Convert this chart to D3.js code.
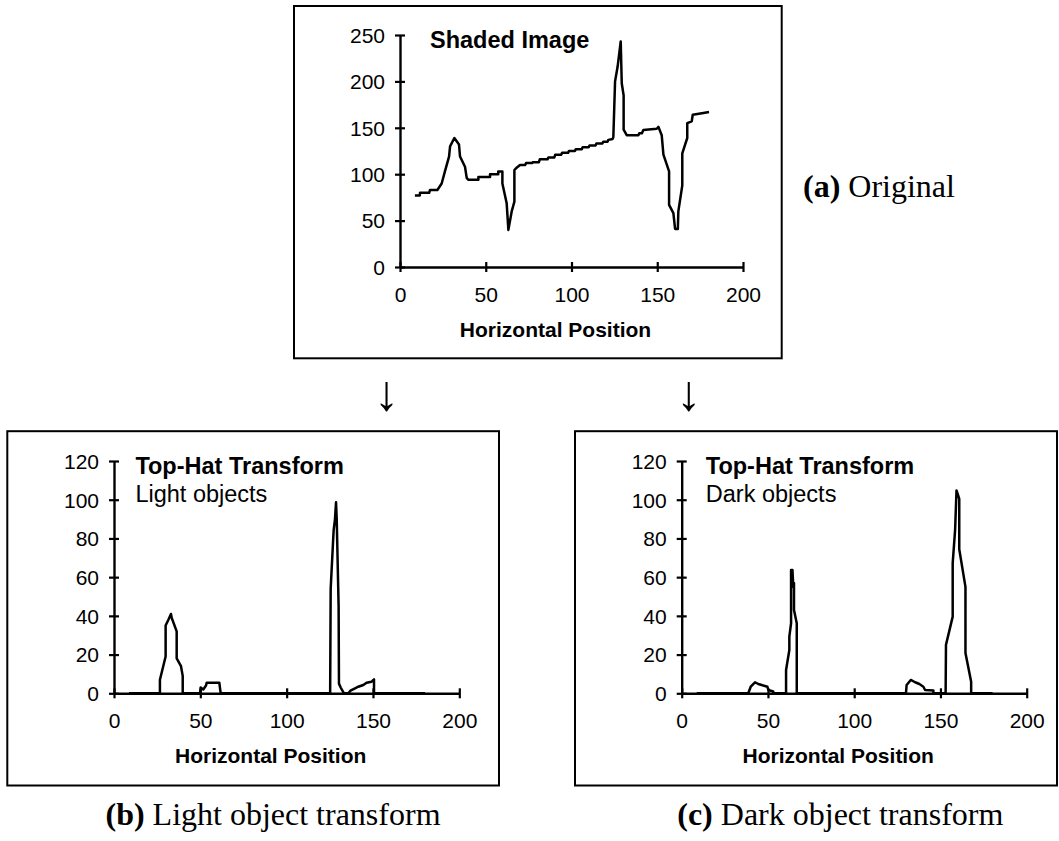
<!DOCTYPE html>
<html><head><meta charset="utf-8">
<script src="https://cdn.jsdelivr.net/npm/d3@7"></script>
<style>body{margin:0;background:#fff} svg{display:block}</style>
</head><body>
<svg id="c" width="1059" height="841"></svg>
<script>
// ---------- data ----------
const xTicks = [0, 50, 100, 150, 200];
const yTicksOriginal = [0, 50, 100, 150, 200, 250];
const yTicksTopHat = [0, 20, 40, 60, 80, 100, 120];

const originalX = [8.7,11.5,11.7,17,17.5,21.8,24.3,26.2,28.6,29.2,31.7,34.4,35,37.9,38.9,39.8,45.7,45.7,52.5,52.5,57.3,57.3,59.7,59.7,62.2,63.2,65.1,66.7,66.7,68,70,73,73.5,77,77.5,81,81.5,86,86.5,90,90.5,94,94.5,98,98.5,102,102.5,106,106.5,110,110.5,114,114.5,118,118.5,121,121.5,124,124.4,125.4,126.9,128.7,129.3,130.4,130.4,132.2,139,139.5,141,141.9,149.7,150.7,152.6,153.6,156.9,156.9,159.4,160.4,162,162.3,164.6,164.6,167.5,167.5,170.1,170.7,176.9,180.2];
const originalY = [77,77,80,80,83,83,90,103,119,130,139,132,119,108,96,94,94,97,97,100,100,103,103,90,68.6,40,59.6,70.4,104.5,107,110,110,112,112,113,113,116,116,118,118,121,121,123,123,125,125,127,127,129,129,131,131,133,133,135,135,137,138,140,200,216,243,198,185,148,142,142,144,144,147.6,149,151,142,121,103,67,58,41,41,60,88,122.5,139,155,157,164,166,167];

const lightX = [8.7,26.6,26.6,29.9,29.9,31.5,33,33.4,36.3,36.3,38.8,39.8,39.8,49.8,50.2,51.7,53.3,53.7,61,61.8,125.2,125.5,127.2,128,128.6,129,130.1,130.3,131.3,133.2,135.7,137,139.6,141.5,144.4,146.3,149.2,150.6,150.6,180.2];
const lightY = [0,0,7,19,35,38,41,39,32,18,14,9,0,0,3,2,4,5.5,5.5,0,0,54,84,90,98.7,90,45,5,3,0,0,1.4,2.6,3.4,4.3,5.5,6,7.2,0,0];

const darkX = [8.7,38.6,40,42.5,44.4,47.3,49.7,50.2,53.1,53.1,60.5,60.5,62.4,62.4,63.4,63.4,64.2,64.7,65.1,65.1,66.7,66.7,130,130.4,132.8,135.3,137.8,140.1,141.1,145.9,145.9,153,153.2,157.1,157.1,158.5,159.3,160,160.9,160.9,164.5,164.5,167.8,167.8,180.2];
const darkY = [0,0,3.4,5.7,4.8,4,3.4,1.7,0.9,0,0,12,22.4,29.3,36.2,63.7,63.7,55,57,43,36.2,0,0,4.3,6.9,5.7,4.8,3.4,1.7,1.4,0,0,25,39.6,67.2,84.4,104.8,103,100.4,74.4,55,20.8,6,0,0];

// ---------- layout ----------
const SANS = "'Liberation Sans', Arial, Helvetica, sans-serif";
const SERIF = "'Liberation Serif', 'Times New Roman', serif";
const svg = d3.select('#c');

const panels = [
  {box:[294,6,781.7,358.3], xr:[400,743], ymax:250, yr:[267,35], yticks:yTicksOriginal,
   xs:originalX, ys:originalY, title:'Shaded Image', sub:null, tx:430, ty:48.3},
  {box:[7.3,431.2,499,785.5], xr:[114,459.3], ymax:120, yr:[693.3,461], yticks:yTicksTopHat,
   xs:lightX, ys:lightY, title:'Top-Hat Transform', sub:'Light objects', tx:135.4, ty:473.7},
  {box:[575,431.2,1057,785.5], xr:[681.7,1026.7], ymax:120, yr:[693.3,461], yticks:yTicksTopHat,
   xs:darkX, ys:darkY, title:'Top-Hat Transform', sub:'Dark objects', tx:705.8, ty:473.7}
];

panels.forEach(p => {
  const g = svg.append('g');
  g.append('rect')
    .attr('x', p.box[0]).attr('y', p.box[1])
    .attr('width', p.box[2]-p.box[0]).attr('height', p.box[3]-p.box[1])
    .attr('fill','none').attr('stroke','#000').attr('stroke-width',2);

  const x = d3.scaleLinear().domain([0,200]).range(p.xr);
  const y = d3.scaleLinear().domain([0,p.ymax]).range(p.yr);

  const xa = g.append('g').attr('transform',`translate(0,${p.yr[0]})`)
    .call(d3.axisBottom(x).tickValues(xTicks).tickSize(5).tickSizeOuter(0));
  xa.attr('font-family', SANS).attr('font-size', 21);
  xa.select('.domain').attr('stroke','#000').attr('stroke-width',2.4);
  xa.selectAll('.tick line').attr('y1',-5).attr('stroke','#000').attr('stroke-width',2.2);
  xa.selectAll('.tick text').attr('y',35).attr('dy',0).attr('fill','#000');

  const ya = g.append('g').attr('transform',`translate(${p.xr[0]},0)`)
    .call(d3.axisLeft(y).tickValues(p.yticks).tickSize(5).tickSizeOuter(0));
  ya.attr('font-family', SANS).attr('font-size', 21);
  ya.select('.domain').attr('stroke','#000').attr('stroke-width',2.4);
  ya.selectAll('.tick line').attr('x1',5).attr('stroke','#000').attr('stroke-width',2.2);
  ya.selectAll('.tick text').attr('x',-15).attr('dy','0.35em').attr('fill','#000');

  const pts = p.xs.map((v,i)=>[v,p.ys[i]]);
  g.append('path').datum(pts)
    .attr('d', d3.line().x(d=>x(d[0])).y(d=>y(d[1])))
    .attr('fill','none').attr('stroke','#000').attr('stroke-width',2.5)
    .attr('stroke-linejoin','round');

  g.append('text').attr('x', (p.xr[0]+p.xr[1])/2 - 16).attr('y', p.yr[0]+70)
    .attr('text-anchor','middle').attr('font-family',SANS).attr('font-weight','bold')
    .attr('font-size',21).text('Horizontal Position');

  g.append('text').attr('x', p.tx).attr('y', p.ty)
    .attr('font-family',SANS).attr('font-weight','bold').attr('font-size',23.5).text(p.title);
  if (p.sub) g.append('text').attr('x', p.tx).attr('y', p.ty+28.6)
    .attr('font-family',SANS).attr('font-size',23.5).text(p.sub);
});

// captions
function caption(x, y, anchor, letter, rest){
  const t = svg.append('text').attr('x',x).attr('y',y).attr('text-anchor',anchor)
    .attr('font-family',SERIF).attr('font-size',32);
  t.append('tspan').attr('font-weight','bold').text('(' + letter + ')');
  t.append('tspan').text(' ' + rest);
}
caption(803, 197, 'start', 'a', 'Original');
caption(273, 824.7, 'middle', 'b', 'Light object transform');
caption(840.3, 824.7, 'middle', 'c', 'Dark object transform');

// arrows
[386.7, 689].forEach(ax => {
  svg.append('text').attr('x',ax).attr('y',410).attr('text-anchor','middle')
    .attr('font-family',SERIF).attr('font-size',50).attr('fill','#000').text('↓');
});
</script>
</body></html>
